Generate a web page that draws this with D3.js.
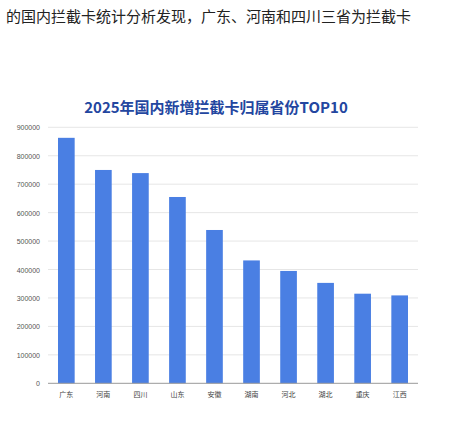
<!DOCTYPE html><html><head><meta charset="utf-8"><script src="https://cdn.jsdelivr.net/npm/d3@7"></script>
<style>body{margin:0;background:#fff;font-family:"Noto Sans CJK SC",sans-serif}</style></head><body><svg id="c" width="466" height="432"></svg><script>
const categories=["广东","河南","四川","山东","安徽","湖南","河北","湖北","重庆","江西"];
const values=[863000,750000,739000,655000,539000,432000,395000,353000,315000,309000];
const yTicks=[0,100000,200000,300000,400000,500000,600000,700000,800000,900000];
const svg=d3.select("#c");
svg.append("text").attr("x",6).attr("y",22).attr("font-size",15).attr("fill","#222").text("的国内拦截卡统计分析发现，广东、河南和四川三省为拦截卡");
svg.append("text").attr("x",216).attr("y",113).attr("text-anchor","middle").attr("font-size",15).attr("font-weight","bold").attr("fill","#2346a0").text("2025年国内新增拦截卡归属省份TOP10");
const x=d3.scaleBand().domain(categories).range([48,418]).paddingInner(0.55).paddingOuter(0.27);
const y=d3.scaleLinear().domain([0,900000]).range([383.3,127.3]);
svg.append("g").selectAll("line").data(yTicks.slice(1)).join("line").attr("x1",48).attr("x2",418).attr("y1",d=>y(d)).attr("y2",d=>y(d)).attr("stroke","#e6e6e6");
svg.append("g").selectAll("text").data(yTicks).join("text").attr("x",40).attr("y",d=>y(d)+3).attr("text-anchor","end").attr("font-size",7).attr("fill","#555").attr("font-family","Liberation Sans").text(d=>d);
svg.append("g").selectAll("rect").data(values).join("rect").attr("x",(d,i)=>x(categories[i])).attr("width",x.bandwidth()).attr("y",d=>y(d)).attr("height",d=>y(0)-y(d)).attr("fill","#4a7fe3");
svg.append("line").attr("x1",48).attr("x2",418).attr("y1",y(0)).attr("y2",y(0)).attr("stroke","#999");
svg.append("g").selectAll("text").data(categories).join("text").attr("x",d=>x(d)+x.bandwidth()/2).attr("y",397).attr("text-anchor","middle").attr("font-size",7).attr("fill","#444").text(d=>d);
</script></body></html>
